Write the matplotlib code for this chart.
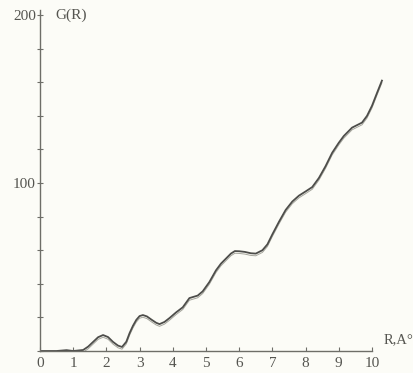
import matplotlib.pyplot as plt

# values
r_vals = [0, 0.5, 0.8, 1.0, 1.3, 1.45, 1.6, 1.75, 1.9, 2.05, 2.2, 2.35, 2.47,
          2.6, 2.7, 2.8, 2.9, 3.0, 3.1, 3.22, 3.37, 3.5, 3.6, 3.75, 3.9, 4.1,
          4.3, 4.5, 4.75, 4.9, 5.1, 5.3, 5.45, 5.6, 5.75, 5.87, 6.0, 6.17,
          6.35, 6.5, 6.7, 6.85, 7.0, 7.2, 7.4, 7.6, 7.8, 8.0, 8.2, 8.4,
          8.6, 8.8, 9.0, 9.15, 9.4, 9.55, 9.7, 9.85, 10.0, 10.15, 10.3]
g_vals = [0, 0, 0.5, 0, 0.6, 2.6, 5.4, 8.2, 9.5, 8.3, 5.4, 3.2, 2.4,
          5.5, 10.7, 15, 18.5, 20.8, 21.4, 20.6, 18.5, 16.8, 16, 17.3, 19.6, 23,
          26, 31.5, 33, 35.5, 41, 48, 52, 55, 58, 59.5, 59.4, 59,
          58.2, 58, 60, 63.5, 69.5, 77, 84, 89, 92.5, 95, 97.6, 103,
          110, 118, 124, 128, 133, 134.5, 136, 140, 146, 153.6, 161]
x_ticks = list(range(0, 11))
y_ticks = list(range(0, 201, 20))
y_labels = {100: "100", 200: "200"}

plt.rcParams['font.family'] = ['Liberation Serif', 'DejaVu Serif']

fig = plt.figure(figsize=(4.14, 3.73), dpi=100, facecolor='#fcfcf7')
ax = fig.add_axes([0.0966, 0.059, 0.834, 0.923])
ax.set_facecolor('#fcfcf7')

ink = '#4d4d4a'
# the scan shows a faint doubled trace under the main one
ax.plot(r_vals, [g - 1.3 for g in g_vals], color='#a5a59c', lw=0.7,
        solid_joinstyle='round')
ax.plot(r_vals, g_vals, color=ink, lw=1.3, solid_joinstyle='round')

ax.set_xlim(0, 10.4)
ax.set_ylim(0, 205)

for s in ['top', 'right']:
    ax.spines[s].set_visible(False)
ax.spines['bottom'].set_bounds(0, 10)
ax.spines['left'].set_bounds(0, 203)
for s in ['bottom', 'left']:
    ax.spines[s].set_color('#6e6e68')
    ax.spines[s].set_linewidth(1.0)

ax.set_xticks(x_ticks)
ax.set_xticklabels([str(t) for t in x_ticks])
ax.set_yticks(y_ticks)
ax.set_yticklabels([y_labels.get(t, "") for t in y_ticks])
ax.tick_params(axis='x', direction='in', length=3, color='#6e6e68',
               labelsize=11, labelcolor='#555550', pad=4)
ax.tick_params(axis='y', direction='inout', length=4, color='#6e6e68',
               labelsize=11, labelcolor='#555550', pad=1)

ax.text(10.36, 3, "R,A°", fontsize=10.5, color='#555550', ha='left',
        va='bottom', clip_on=False)
ax.text(0.45, 200, "G(R)", fontsize=11, color='#555550', ha='left', va='center')

fig.savefig('out.png', dpi=100, facecolor=fig.get_facecolor())
